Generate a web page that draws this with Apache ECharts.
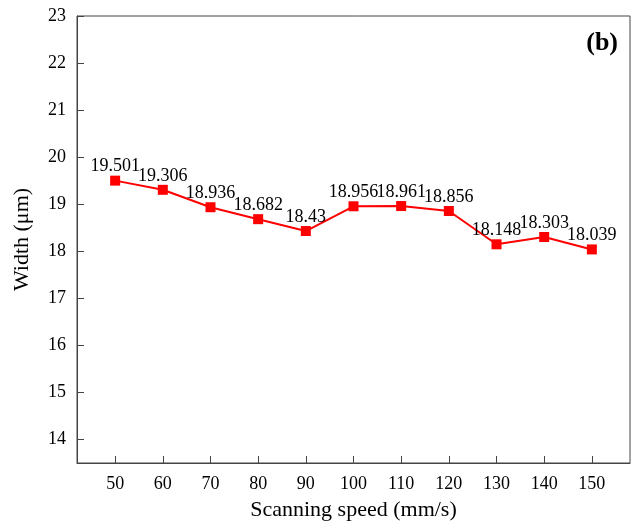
<!DOCTYPE html>
<html>
<head>
<meta charset="utf-8">
<script src="https://cdn.jsdelivr.net/npm/echarts@6/dist/echarts.min.js"></script>
<style>
  html, body { margin: 0; padding: 0; background: #fff; }
  #main { width: 632px; height: 524px; }
</style>
</head>
<body>
<div id="main"></div>
<script>
// data
var speeds = [50, 60, 70, 80, 90, 100, 110, 120, 130, 140, 150];
var widths = [19.501, 19.306, 18.936, 18.682, 18.43, 18.956, 18.961, 18.856, 18.148, 18.303, 18.039];
var xTicks = [50, 60, 70, 80, 90, 100, 110, 120, 130, 140, 150];
var yTicks = [14, 15, 16, 17, 18, 19, 20, 21, 22, 23];

var font = 'Liberation Serif';
var axisColor = '#444';

var myChart = echarts.init(document.getElementById('main'));

var points = [];
for (var i = 0; i < speeds.length; i++) {
  points.push([speeds[i], widths[i]]);
}

var option = {
  backgroundColor: '#fff',
  animation: false,
  textStyle: { fontFamily: font },
  grid: {
    left: 77, right: 2, top: 16, bottom: 61,
    outerBoundsMode: 'none',
    containLabel: false,
    show: true, borderColor: axisColor, borderWidth: 1
  },
  graphic: [{
    type: 'text', right: 14, top: 30,
    style: { text: '(b)', font: 'bold 26px "Liberation Serif"', fill: '#000' }
  }],
  xAxis: {
    type: 'value',
    min: 42, max: 158,
    name: 'Scanning speed (mm/s)',
    nameLocation: 'middle',
    nameGap: 36,
    nameTextStyle: { fontSize: 22, color: '#000', fontFamily: font },
    splitLine: { show: false },
    axisLine: { show: true, lineStyle: { color: axisColor } },
    axisTick: { inside: true, length: 7, customValues: xTicks, lineStyle: { color: axisColor } },
    axisLabel: { customValues: xTicks, fontSize: 18, color: '#000', margin: 12, fontFamily: font }
  },
  yAxis: {
    type: 'value',
    min: 13.5, max: 23,
    name: 'Width (μm)',
    nameLocation: 'middle',
    nameGap: 44,
    nameTextStyle: { fontSize: 22, color: '#000', fontFamily: font },
    splitLine: { show: false },
    axisLine: { show: true, lineStyle: { color: axisColor } },
    axisTick: { inside: true, length: 7, customValues: yTicks, lineStyle: { color: axisColor } },
    axisLabel: { customValues: yTicks, fontSize: 18, color: '#000', margin: 11, fontFamily: font }
  },
  series: [{
    type: 'line',
    data: points,
    symbol: 'rect',
    symbolSize: 10,
    itemStyle: { color: '#ff0000' },
    lineStyle: { color: '#ff0000', width: 2 },
    label: {
      show: true,
      position: 'top',
      distance: 0,
      fontSize: 18,
      color: '#000',
      fontFamily: font,
      formatter: function (p) { return String(p.value[1]); }
    }
  }]
};

myChart.setOption(option);
</script>
</body>
</html>
